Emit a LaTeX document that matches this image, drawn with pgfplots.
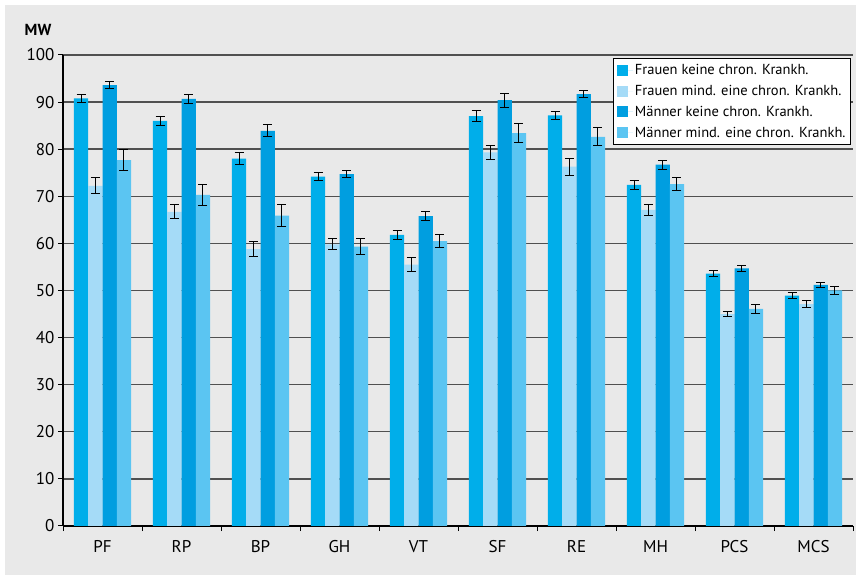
\documentclass[border=0pt]{standalone}
\usepackage{fontspec}
\setmainfont{PT Sans}
\usepackage{pgfplots}
\pgfplotsset{compat=1.18}
\definecolor{bg}{RGB}{233,233,233}
\definecolor{fk}{RGB}{0,174,234}
\definecolor{fm}{RGB}{165,219,247}
\definecolor{mk}{RGB}{0,158,224}
\definecolor{mm}{RGB}{91,197,242}
\definecolor{gridc}{RGB}{80,80,80}

\begin{document}
\begin{tikzpicture}
  \useasboundingbox (0pt,0pt) rectangle (856pt,575pt);
  \fill[bg] (5pt,0pt) rectangle (856pt,570pt);
  \node[font=\bfseries\fontsize{16}{18}\selectfont] at (38pt,545pt) {MW};
  \begin{axis}[
      at={(63pt,49pt)}, anchor=south west,
      scale only axis, width=790pt, height=471pt,
      ybar=0pt, bar width=14.3pt,
      xmin=-0.5, xmax=9.5, ymin=0, ymax=100,
      xtick={0,...,9},
      xticklabels={PF,RP,BP,GH,VT,SF,RE,MH,PCS,MCS},
      major x tick style={draw=none},
      minor xtick={-0.5,0.5,...,9.5},
      minor x tick style={black, line width=1pt},
      minor tick length=5pt,
      ytick={0,10,...,100},
      major y tick style={black, line width=1pt},
      major tick length=5pt,
      tick align=outside,
      axis x line*=bottom, axis y line*=left,
      axis line style={black, line width=1.2pt, -},
      ymajorgrids, grid style={gridc, line width=1.4pt},
      /pgf/number format/assume math mode=true,
      tick label style={font=\fontsize{17}{20}\selectfont},
      xticklabel style={yshift=-6pt},
      legend style={at={(0.9975,0.9936)}, anchor=north east,
        draw=black, line width=1pt, fill=white,
        font=\fontsize{14.5}{17}\selectfont,
        inner xsep=3pt, inner ysep=4pt, row sep=5pt,
        cells={anchor=west}},
      legend image code/.code={\fill[#1] (0pt,-5.5pt) rectangle (11pt,5.5pt);
        \path (0pt,0pt) -- (16pt,0pt);},
      error bars/y dir=both, error bars/y explicit,
      error bars/error bar style={black, line width=1pt},
      error bars/error mark options={black, line width=1pt, mark size=4.5pt, rotate=90},
    ]
    \addplot[fill=fk, draw=none] coordinates {
      (0,90.8) +- (0,0.8) (1,86.0) +- (0,0.9) (2,78.0) +- (0,1.2) (3,74.2) +- (0,0.9)
      (4,61.8) +- (0,0.9) (5,87.0) +- (0,1.2) (6,87.2) +- (0,0.8) (7,72.4) +- (0,0.9)
      (8,53.6) +- (0,0.6) (9,48.9) +- (0,0.6)
    };
    \addplot[fill=fm, draw=none] coordinates {
      (0,72.2) +- (0,1.7) (1,66.7) +- (0,1.5) (2,58.8) +- (0,1.6) (3,59.8) +- (0,1.2)
      (4,55.5) +- (0,1.5) (5,79.3) +- (0,1.5) (6,76.3) +- (0,1.8) (7,67.1) +- (0,1.1)
      (8,45.0) +- (0,0.5) (9,47.1) +- (0,0.8)
    };
    \addplot[fill=mk, draw=none] coordinates {
      (0,93.6) +- (0,0.8) (1,90.7) +- (0,0.9) (2,83.9) +- (0,1.3) (3,74.7) +- (0,0.8)
      (4,65.8) +- (0,0.9) (5,90.4) +- (0,1.5) (6,91.7) +- (0,0.8) (7,76.7) +- (0,1.0)
      (8,54.7) +- (0,0.6) (9,51.2) +- (0,0.6)
    };
    \addplot[fill=mm, draw=none] coordinates {
      (0,77.7) +- (0,2.3) (1,70.3) +- (0,2.3) (2,65.9) +- (0,2.3) (3,59.3) +- (0,1.7)
      (4,60.5) +- (0,1.4) (5,83.4) +- (0,2.0) (6,82.6) +- (0,1.9) (7,72.6) +- (0,1.4)
      (8,46.1) +- (0,0.9) (9,50.0) +- (0,0.9)
    };
    \legend{Frauen keine chron. Krankh., Frauen mind. eine chron. Krankh.,
      Männer keine chron. Krankh., Männer mind. eine chron. Krankh.}
  \end{axis}
\end{tikzpicture}
\end{document}
